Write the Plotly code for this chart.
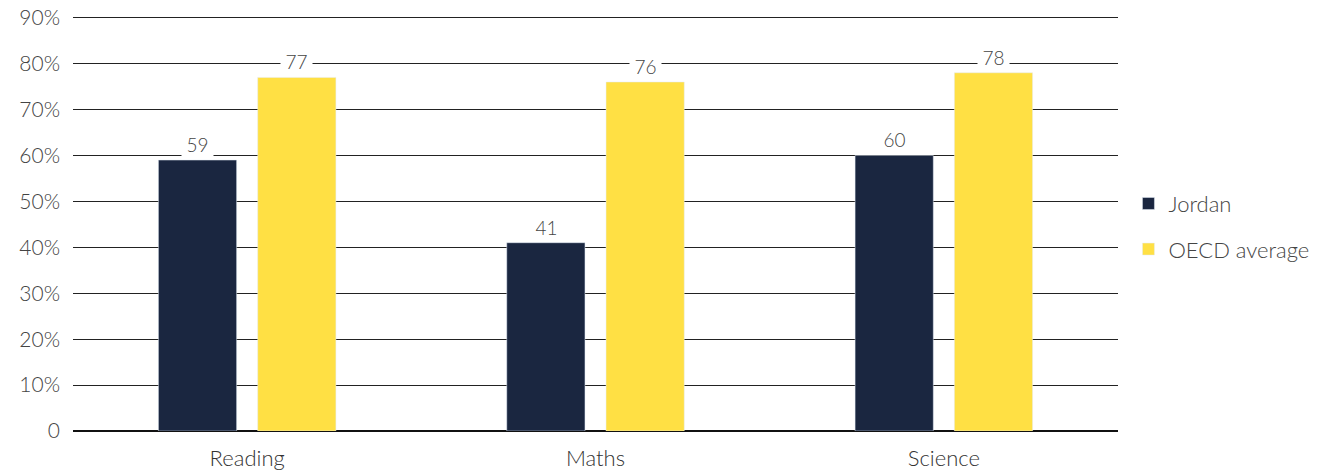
import plotly.graph_objects as go

categories = ["Reading", "Maths", "Science"]
jordan = [59, 41, 60]
oecd = [77, 76, 78]
tick_vals = [0, 10, 20, 30, 40, 50, 60, 70, 80, 90]
tick_text = ["0", "10%", "20%", "30%", "40%", "50%", "60%", "70%", "80%", "90%"]

NAVY = "#1a2640"
YELLOW = "#ffe044"
FONT = "Lato"

fig = go.Figure()
fig.add_trace(go.Bar(x=categories, y=jordan, name="Jordan", marker_color=NAVY,
                     legendgroup="a"))
fig.add_trace(go.Bar(x=categories, y=oecd, name="OECD average", marker_color=YELLOW,
                     legendgroup="b"))

annotations = []
for series, shift in ((jordan, -49.5), (oecd, 49.5)):
    for c, v in zip(categories, series):
        annotations.append(dict(
            x=c, y=v, xref="x", yref="y", text="\u2009" + str(v) + "\u2009",
            showarrow=False, xshift=shift, yshift=1, yanchor="bottom",
            bgcolor="white", borderpad=2,
            font=dict(family=FONT, size=19, color="#444", weight=300),
        ))

fig.update_layout(
    width=1328, height=476,
    margin=dict(l=73, r=210, t=14, b=45, autoexpand=False),
    paper_bgcolor="white", plot_bgcolor="white",
    barmode="group", bargap=0.43, bargroupgap=0.212,
    font=dict(family=FONT, size=21, color="#444", weight=300),
    annotations=annotations,
    legend=dict(x=1.01, y=0.49, xanchor="left", yanchor="middle",
                font=dict(family=FONT, size=22, color="#444", weight=300),
                tracegroupgap=14, itemwidth=30),
    xaxis=dict(showgrid=False, showline=False, ticks="", automargin=False,
               ticklabelstandoff=12,
               tickfont=dict(family=FONT, size=22, color="#333", weight=300)),
    yaxis=dict(range=[0, 90.8], tickvals=tick_vals, ticktext=tick_text,
               showgrid=True, gridcolor="#222", gridwidth=1, automargin=False,
               zeroline=True, zerolinecolor="#111", zerolinewidth=1.5,
               ticks="", ticklabelstandoff=12,
               tickfont=dict(family=FONT, size=21, color="#444", weight=300)),
)

fig.write_html("out.html", config={"displayModeBar": False},
               post_script="document.body.style.margin='0';")
